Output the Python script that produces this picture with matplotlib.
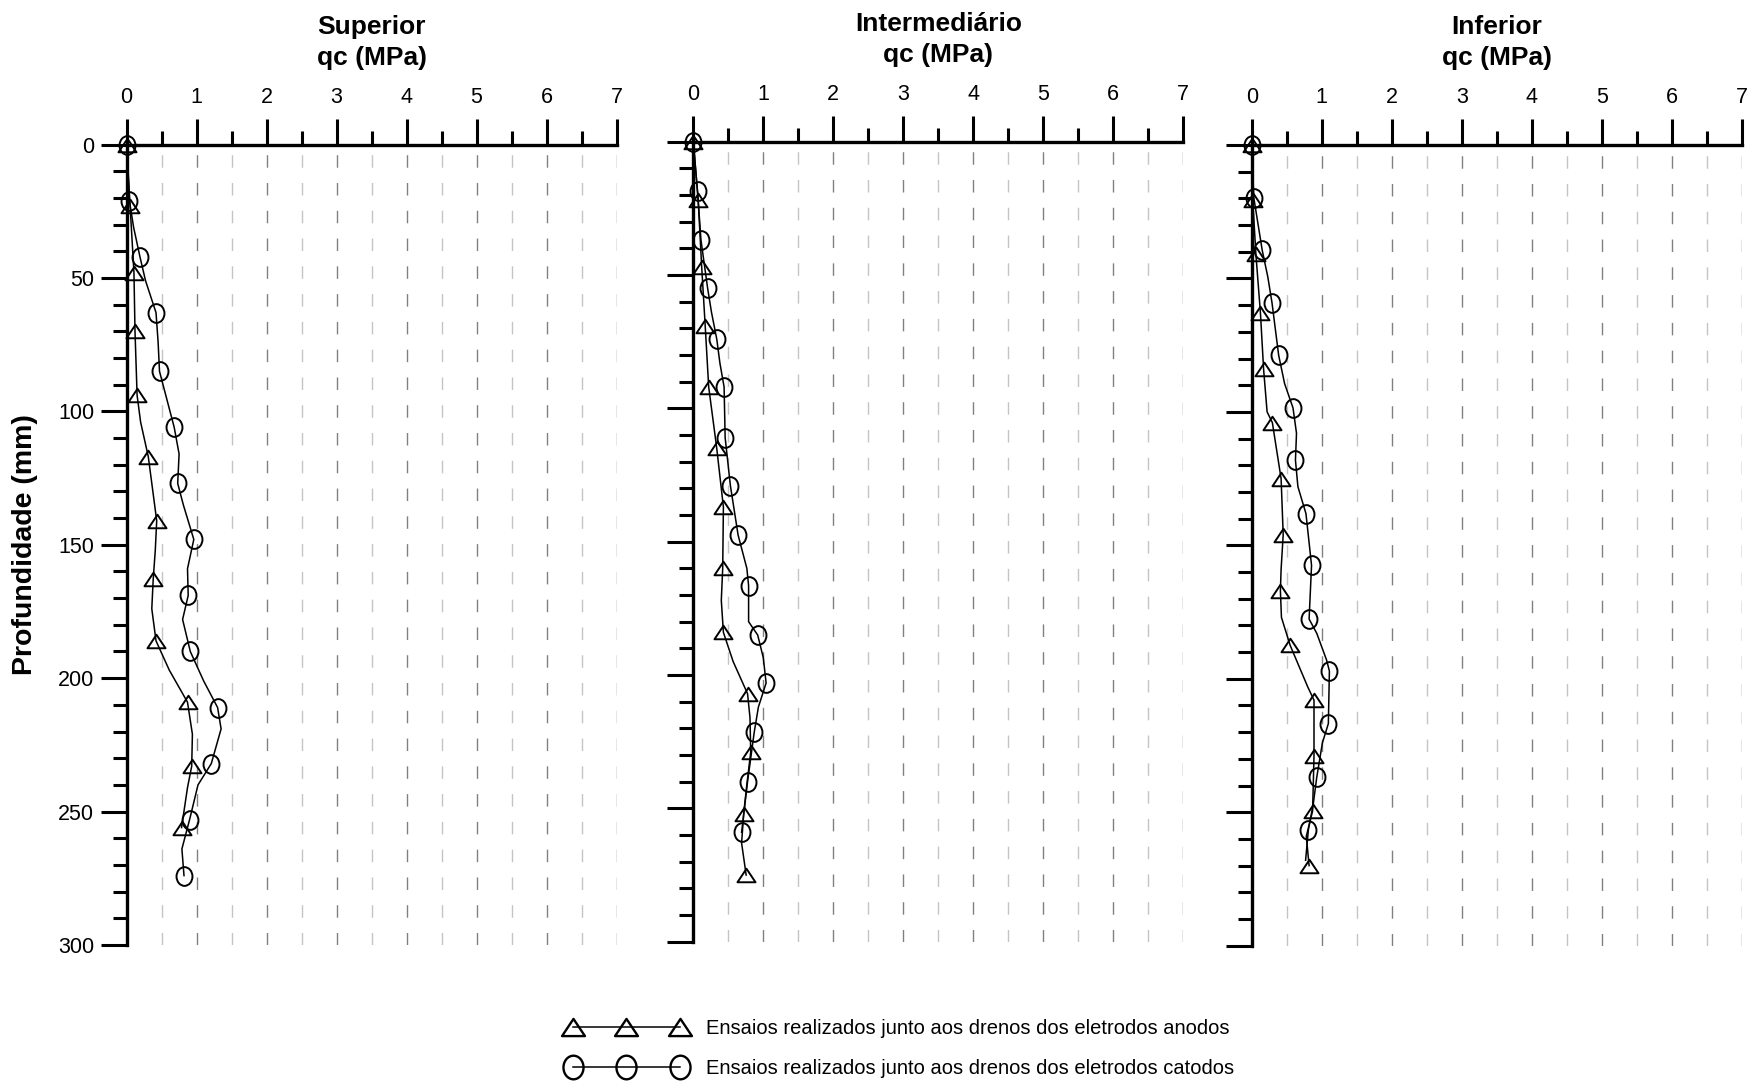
import matplotlib
matplotlib.use('Agg')
import matplotlib.pyplot as plt
from matplotlib.path import Path
from matplotlib.transforms import Affine2D
from matplotlib.ticker import MultipleLocator
from matplotlib.lines import Line2D
from matplotlib import font_manager

plt.rcParams['font.family'] = ['Liberation Sans', 'DejaVu Sans']

# ---- dados: profundidade (mm) x qc (MPa) ----
paineis = ['Superior', 'Intermediário', 'Inferior']

# Superior
sup_anodo_prof = [0, 23, 48, 70, 94, 104, 117, 129, 141, 152, 163, 174, 186, 197, 209, 221, 233, 241, 256]
sup_anodo_qc = [0, 0.05, 0.105, 0.12, 0.15, 0.20, 0.31, 0.37, 0.43, 0.41, 0.38, 0.36, 0.42, 0.61, 0.87, 0.94, 0.93, 0.87, 0.785]
sup_anodo_mk = [0, 23, 48, 70, 94, 117, 141, 163, 186, 209, 233, 256]

sup_catodo_prof = [0, 21, 31, 42, 51, 63, 74, 85, 96, 106, 116, 127, 135, 148, 159, 169, 178, 190, 201, 211, 219, 232, 240, 253, 264, 274]
sup_catodo_qc = [0, 0.04, 0.10, 0.19, 0.27, 0.42, 0.45, 0.47, 0.58, 0.68, 0.75, 0.73, 0.81, 0.96, 0.87, 0.88, 0.80, 0.91, 1.10, 1.30, 1.35, 1.21, 1.02, 0.90, 0.79, 0.82]
sup_catodo_mk = [0, 21, 42, 63, 85, 106, 127, 148, 169, 190, 211, 232, 253, 274]

# Intermediário
int_anodo_prof = [0, 22, 47, 69, 92, 115, 137, 160, 172, 184, 195, 207, 216, 229, 241, 252, 263, 275]
int_anodo_qc = [0, 0.07, 0.12, 0.17, 0.22, 0.335, 0.43, 0.42, 0.40, 0.43, 0.57, 0.775, 0.81, 0.82, 0.765, 0.72, 0.69, 0.755]
int_anodo_mk = [0, 22, 47, 69, 92, 115, 137, 160, 184, 207, 229, 252, 275]

int_catodo_prof = [0, 18.5, 37, 55, 64, 74, 83, 92, 111, 129, 147.5, 160, 166.5, 180, 185, 193.5, 203, 212, 221.5, 240, 259]
int_catodo_qc = [0, 0.06, 0.11, 0.205, 0.26, 0.335, 0.38, 0.44, 0.455, 0.53, 0.64, 0.765, 0.79, 0.79, 0.92, 1.0, 1.04, 0.93, 0.87, 0.775, 0.69]
int_catodo_mk = [0, 18.5, 37, 55, 74, 92, 111, 129, 147.5, 166.5, 185, 203, 221.5, 240, 259]

# Inferior
inf_anodo_prof = [0, 20.6, 41, 63, 84, 100, 104, 125, 146, 159, 167, 177, 187.5, 203, 208, 229, 249.5, 259, 270]
inf_anodo_qc = [0, 0.015, 0.06, 0.125, 0.17, 0.22, 0.295, 0.42, 0.45, 0.42, 0.41, 0.425, 0.55, 0.80, 0.89, 0.89, 0.87, 0.78, 0.82]
inf_anodo_mk = [0, 20.6, 41, 63, 84, 104, 125, 146, 167, 187.5, 208, 229, 249.5, 270]

inf_catodo_prof = [0, 19.75, 39.4, 49.4, 59.1, 78.75, 89.4, 98.5, 108, 118.1, 128, 138.1, 157.5, 177.6, 183, 193, 197.1, 216.8, 224, 236.8, 246.8, 256.5, 268]
inf_catodo_qc = [0, 0.03, 0.15, 0.23, 0.29, 0.385, 0.47, 0.59, 0.64, 0.625, 0.66, 0.775, 0.855, 0.82, 0.93, 1.07, 1.11, 1.095, 1.01, 0.93, 0.88, 0.81, 0.77]
inf_catodo_mk = [0, 19.75, 39.4, 59.1, 78.75, 98.5, 118.1, 138.1, 157.5, 177.6, 197.1, 216.8, 236.8, 256.5]

series = [
    (sup_anodo_prof, sup_anodo_qc, sup_anodo_mk, sup_catodo_prof, sup_catodo_qc, sup_catodo_mk),
    (int_anodo_prof, int_anodo_qc, int_anodo_mk, int_catodo_prof, int_catodo_qc, int_catodo_mk),
    (inf_anodo_prof, inf_anodo_qc, inf_anodo_mk, inf_catodo_prof, inf_catodo_qc, inf_catodo_mk),
]

legenda = ['Ensaios realizados junto aos drenos dos eletrodos anodos',
           'Ensaios realizados junto aos drenos dos eletrodos catodos']

# marcadores: triângulo achatado e elipse
tri = Path([(0, 0.75), (-1, -0.75), (1, -0.75), (0, 0.75)],
           [Path.MOVETO, Path.LINETO, Path.LINETO, Path.CLOSEPOLY])
elip = Affine2D().scale(0.85, 1.0).transform_path(Path.unit_circle())

W, H = 1757, 1084
fig = plt.figure(figsize=(W / 100, H / 100), dpi=100)

lefts = [126.6, 693.3, 1251.7]
tops = [144.5, 141.7, 145.0]
bottoms = [945.0, 941.7, 945.7]
largura = 490

for i, nome in enumerate(paineis):
    ax = fig.add_axes([lefts[i] / W, 1 - bottoms[i] / H, largura / W, (bottoms[i] - tops[i]) / H])
    pa, qa, ma, pc, qcat, mc = series[i]
    ia = [k for k, p in enumerate(pa) if p in ma]
    ic = [k for k, p in enumerate(pc) if p in mc]
    ax.plot(qa, pa, color='black', lw=1.1, marker=tri, ms=13, mfc='none', mec='black',
            mew=1.4, markevery=ia, clip_on=False, zorder=3)
    ax.plot(qcat, pc, color='black', lw=1.1, marker=elip, ms=13.5, mfc='none', mec='black',
            mew=1.4, markevery=ic, clip_on=False, zorder=3)

    ax.set_xlim(0, 7)
    ax.set_ylim(300, 0)
    ax.xaxis.set_major_locator(MultipleLocator(1))
    ax.xaxis.set_minor_locator(MultipleLocator(0.5))
    ax.yaxis.set_major_locator(MultipleLocator(50))
    ax.yaxis.set_minor_locator(MultipleLocator(10))
    ax.xaxis.set_ticks_position('top')
    ax.tick_params(axis='x', which='both', top=True, bottom=False, labeltop=True, labelbottom=False)
    ax.tick_params(which='major', direction='out', length=18.5, width=2.2, labelsize=15.5)
    ax.tick_params(which='minor', direction='out', length=10, width=2.2)
    ax.tick_params(axis='x', which='major', pad=8)
    ax.tick_params(axis='y', which='major', pad=4.8)
    if i > 0:
        ax.tick_params(axis='y', labelleft=False)

    for s in ['bottom', 'right']:
        ax.spines[s].set_visible(False)
    for s in ['top', 'left']:
        ax.spines[s].set_linewidth(2.4)

    ax.set_axisbelow(True)
    ax.grid(axis='x', which='major', color='#808080', lw=1.0, ls=(0, (9, 11)))
    ax.grid(axis='x', which='minor', color='#c4c4c4', lw=1.0, ls=(0, (9, 11)))

    ax.text(0.5, 1 + 75 / (bottoms[i] - tops[i]), nome + '\nqc (MPa)', transform=ax.transAxes,
            ha='center', va='bottom', fontsize=19, fontweight='bold', linespacing=1.35)

fig.text(25 / W, 1 - 545 / H, 'Profundidade (mm)', rotation=90, ha='center', va='center',
         fontsize=20.5, fontweight='bold')

nomes = {f.name for f in font_manager.fontManager.ttflist}
if 'Liberation Sans Narrow' in nomes:
    fonte_leg = {'family': 'Liberation Sans Narrow', 'size': 18}
else:
    fonte_leg = {'family': 'Liberation Sans', 'size': 14.5}

h_anodo = Line2D([], [], color='black', lw=1.1, marker=tri, ms=16.5, mfc='none', mec='black', mew=1.7)
h_catodo = Line2D([], [], color='black', lw=1.1, marker=elip, ms=17, mfc='none', mec='black', mew=1.7)
fig.legend([h_anodo, h_catodo], legenda, loc='upper left', bbox_to_anchor=(567 / W, 1 - 1019 / H),
           frameon=False, numpoints=3, handlelength=5.9, handletextpad=1.0, labelspacing=1.05,
           borderpad=0, borderaxespad=0, prop=fonte_leg)

fig.savefig('out.png', dpi=100)
